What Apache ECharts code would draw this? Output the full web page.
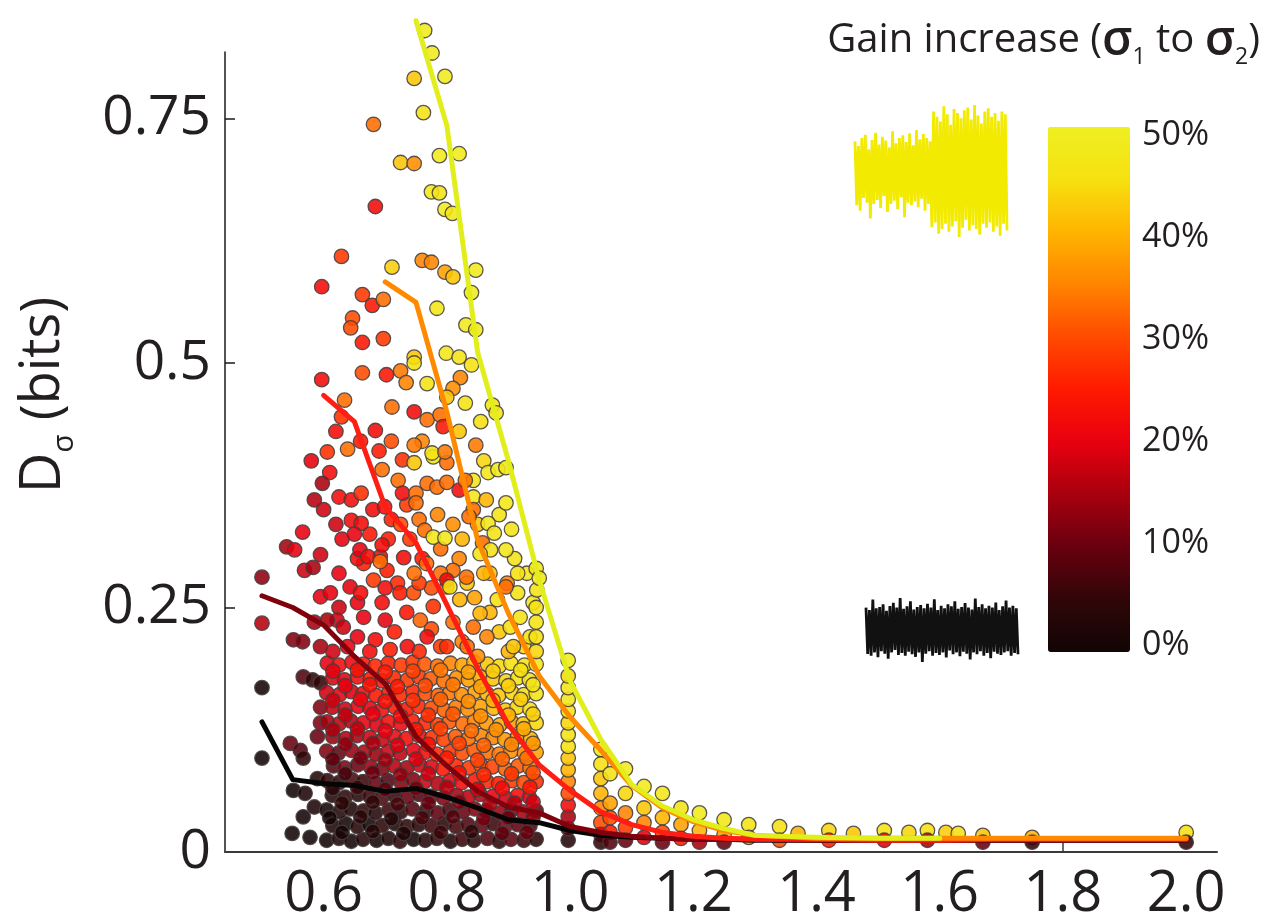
<!DOCTYPE html>
<html><head><meta charset="utf-8">
<script src="https://cdn.jsdelivr.net/npm/echarts@6/dist/echarts.min.js"></script>
<style>html,body{margin:0;padding:0;background:#fff}#c{width:1279px;height:916px}</style>
</head><body><div id="c"></div><script>
// ---------- DATA ----------
const xTicks = [0.6,0.8,1.0,1.2,1.4,1.6,1.8,2.0];
const yTicks = [0,0.25,0.5,0.75];
const colorTicks = [0,10,20,30,40,50];

// mean curves (x bins shared)
const binsX  = [0.5,0.55,0.6,0.65,0.7,0.75,0.8,0.85,0.9,0.95,1.0,1.05,1.1,1.15,1.2,1.25,1.3,1.4,1.5,1.6,1.7,1.8,1.9,2.0];
const line0  = [0.133,0.074,0.070,0.068,0.062,0.065,0.056,0.045,0.033,0.030,0.022,0.017,0.015,0.014,0.013,0.013,0.012,0.012,0.012,0.012,0.012,0.012,0.012,0.012];
const line12 = [0.262,0.250,0.232,0.200,0.172,0.118,0.088,0.062,0.046,0.040,0.026,0.020,0.016,0.014,0.013,0.013,0.013,0.012,0.012,0.012,0.012,0.012,0.012,0.012];
const line25 = [null,null,0.467,0.440,0.353,0.316,0.253,0.188,0.130,0.089,0.063,0.041,0.028,0.020,0.016,0.014,0.013,0.013,0.012,0.012,0.013,0.013,0.013,0.013];
const line37 = [null,null,null,null,0.583,0.562,0.450,0.319,0.244,0.180,0.138,0.104,0.068,0.045,0.031,0.022,0.017,0.014,0.014,0.014,0.014,0.014,0.014,0.014];
const line50 = [null,null,null,null,null,0.850,0.743,0.511,0.400,0.278,0.175,0.115,0.069,0.047,0.033,0.024,0.017,0.015,0.014,0.014,null,null,null,null];

// scatter points [x, D, gain%]
const ptsLeft = [
[0.5,0.281,13],[0.5,0.234,16],[0.5,0.168,0],[0.5,0.096,0],
[0.54,0.312,15],[0.553,0.309,20],[0.566,0.327,20],[0.569,0.288,18],[0.583,0.291,15],[0.595,0.304,18],
[0.551,0.217,12],[0.566,0.215,12],[0.595,0.261,20],[0.585,0.235,15],[0.595,0.21,15],
[0.567,0.179,8],[0.582,0.176,5],[0.595,0.173,5],[0.595,0.148,12],[0.595,0.132,12],[0.59,0.118,10],
[0.546,0.111,10],[0.562,0.104,8],[0.567,0.096,5],[0.551,0.063,0],[0.567,0.036,0],[0.585,0.046,2],
[0.549,0.019,0],[0.578,0.015,0],[0.59,0.075,3],[0.57,0.06,2]
];
const ptsMass = [
[0.605,0.012,0],[0.625,0.014,2],[0.645,0.011,0],[0.664,0.013,3],[0.686,0.012,0],[0.705,0.014,2],[0.724,0.011,4],[0.746,0.013,0],[0.765,0.012,3],[0.784,0.014,5],[0.806,0.011,2],[0.825,0.013,6],[0.844,0.012,4],[0.866,0.014,8],[0.885,0.011,5],[0.904,0.013,9],[0.925,0.012,6],[0.945,0.013,4],
[0.615,0.027,2],[0.636,0.029,0],[0.655,0.026,3],[0.674,0.028,0],[0.695,0.027,4],[0.716,0.029,2],[0.735,0.026,5],[0.754,0.028,3],[0.775,0.027,6],[0.796,0.029,4],[0.815,0.026,7],[0.834,0.028,8],[0.856,0.027,10],[0.875,0.029,6],[0.894,0.026,12],[0.915,0.028,9],[0.935,0.027,8],
[0.605,0.043,0],[0.626,0.041,3],[0.644,0.044,2],[0.665,0.042,5],[0.684,0.040,3],[0.706,0.043,6],[0.725,0.041,4],[0.744,0.044,8],[0.766,0.042,5],[0.785,0.040,9],[0.804,0.043,7],[0.826,0.041,10],[0.845,0.044,12],[0.864,0.042,10],[0.886,0.040,14],[0.905,0.043,12],[0.924,0.041,15],[0.945,0.042,10],
[0.614,0.058,3],[0.635,0.056,5],[0.656,0.059,4],[0.675,0.057,6],[0.694,0.055,8],[0.715,0.058,6],[0.736,0.056,10],[0.755,0.059,8],[0.774,0.057,12],[0.795,0.055,12],[0.816,0.058,15],[0.835,0.056,17],[0.854,0.059,16],[0.875,0.057,20],[0.896,0.055,18],[0.915,0.058,22],[0.934,0.056,20],
[0.606,0.073,5],[0.625,0.071,4],[0.646,0.074,8],[0.664,0.072,6],[0.685,0.070,10],[0.704,0.073,8],[0.726,0.071,12],[0.745,0.074,12],[0.764,0.072,18],[0.786,0.070,16],[0.805,0.073,20],[0.824,0.071,22],[0.846,0.074,24],[0.865,0.072,26],[0.884,0.070,25],[0.906,0.073,28],[0.925,0.071,30],[0.945,0.072,27],
[0.616,0.088,8],[0.634,0.086,12],[0.655,0.089,10],[0.676,0.087,14],[0.695,0.085,12],[0.714,0.088,16],[0.735,0.086,15],[0.756,0.089,18],[0.775,0.087,20],[0.794,0.085,24],[0.815,0.088,26],[0.836,0.086,28],[0.855,0.089,30],[0.874,0.087,29],[0.895,0.085,32],[0.916,0.088,31],[0.935,0.086,34],
[0.605,0.103,12],[0.624,0.101,10],[0.645,0.104,14],[0.666,0.102,16],[0.685,0.100,14],[0.705,0.103,18],[0.724,0.101,17],[0.746,0.104,20],[0.765,0.102,22],[0.784,0.100,26],[0.806,0.103,28],[0.825,0.101,30],[0.844,0.104,31],[0.866,0.102,33],[0.885,0.100,34],[0.904,0.103,36],[0.926,0.101,35],[0.945,0.102,38],
[0.615,0.118,14],[0.636,0.116,16],[0.654,0.119,15],[0.675,0.117,18],[0.696,0.115,18],[0.715,0.118,21],[0.734,0.116,22],[0.755,0.119,22],[0.776,0.117,27],[0.795,0.115,29],[0.814,0.118,31],[0.835,0.116,33],[0.856,0.119,35],[0.875,0.117,35],[0.894,0.115,37],[0.915,0.118,38],[0.936,0.116,40],
[0.606,0.133,15],[0.625,0.131,17],[0.644,0.134,16],[0.665,0.132,20],[0.686,0.130,19],[0.705,0.133,22],[0.725,0.131,21],[0.744,0.134,24],[0.766,0.132,26],[0.785,0.130,29],[0.804,0.133,31],[0.826,0.131,33],[0.845,0.134,35],[0.864,0.132,37],[0.886,0.130,39],[0.905,0.133,38],[0.924,0.131,42],[0.945,0.132,44],
[0.614,0.148,17],[0.635,0.146,18],[0.656,0.149,20],[0.675,0.147,20],[0.694,0.145,22],[0.716,0.148,24],[0.735,0.146,24],[0.754,0.149,26],[0.775,0.147,30],[0.796,0.145,32],[0.815,0.148,34],[0.834,0.146,36],[0.855,0.149,38],[0.876,0.147,40],[0.895,0.145,42],[0.914,0.148,44],[0.935,0.146,45],
[0.605,0.163,18],[0.626,0.161,20],[0.645,0.164,19],[0.664,0.162,22],[0.685,0.160,24],[0.706,0.163,24],[0.724,0.161,26],[0.745,0.164,26],[0.765,0.162,30],[0.786,0.160,32],[0.805,0.163,34],[0.824,0.161,36],[0.846,0.164,38],[0.865,0.162,40],[0.884,0.160,42],[0.906,0.163,44],[0.925,0.161,45],[0.945,0.162,46],
[0.615,0.178,19],[0.634,0.176,20],[0.655,0.179,22],[0.676,0.177,24],[0.695,0.175,24],[0.714,0.178,26],[0.736,0.176,28],[0.755,0.179,28],[0.774,0.177,31],[0.795,0.175,33],[0.816,0.178,36],[0.835,0.176,38],[0.854,0.179,40],[0.875,0.177,42],[0.896,0.175,44],[0.915,0.178,45],[0.934,0.176,46],
[0.606,0.193,20],[0.625,0.191,22],[0.646,0.194,21],[0.665,0.192,24],[0.684,0.190,26],[0.705,0.193,25],[0.726,0.191,28],[0.745,0.194,28],[0.764,0.192,31],[0.785,0.190,33],[0.806,0.193,35],[0.825,0.191,38],[0.844,0.194,40],[0.866,0.192,42],[0.885,0.190,44],[0.904,0.193,45],[0.926,0.191,46],[0.945,0.192,47]
];
const ptsFill = [
[0.63,0.020,1],[0.68,0.021,3],[0.73,0.019,2],[0.79,0.020,6],[0.84,0.021,5],[0.89,0.019,9],[0.93,0.020,10],
[0.61,0.035,0],[0.66,0.036,4],[0.71,0.034,3],[0.76,0.035,7],[0.81,0.036,8],[0.86,0.034,11],[0.90,0.035,10],[0.94,0.036,13],
[0.63,0.050,4],[0.68,0.051,5],[0.72,0.049,7],[0.77,0.050,10],[0.82,0.051,12],[0.87,0.049,15],[0.91,0.050,16],[0.94,0.051,18],
[0.615,0.065,4],[0.655,0.066,6],[0.70,0.064,9],[0.75,0.065,11],[0.80,0.066,16],[0.85,0.064,19],[0.89,0.065,22],[0.935,0.066,24],
[0.635,0.080,7],[0.68,0.081,10],[0.725,0.079,13],[0.77,0.080,18],[0.82,0.081,23],[0.86,0.079,26],[0.905,0.080,28],[0.94,0.081,30],
[0.615,0.095,9],[0.66,0.096,11],[0.70,0.094,14],[0.75,0.095,19],[0.80,0.096,25],[0.85,0.094,29],[0.89,0.095,32],[0.93,0.096,33],
[0.635,0.110,13],[0.68,0.111,15],[0.72,0.109,19],[0.77,0.110,23],[0.82,0.111,29],[0.86,0.109,32],[0.905,0.110,35],[0.94,0.111,37],
[0.615,0.125,15],[0.655,0.126,17],[0.70,0.124,20],[0.75,0.125,24],[0.79,0.126,29],[0.84,0.124,33],[0.88,0.125,36],[0.925,0.126,39],
[0.635,0.140,17],[0.68,0.141,20],[0.725,0.139,22],[0.77,0.140,27],[0.81,0.141,31],[0.855,0.139,36],[0.90,0.140,40],[0.94,0.141,43],
[0.615,0.155,18],[0.66,0.156,21],[0.70,0.154,23],[0.745,0.155,27],[0.79,0.156,32],[0.835,0.154,36],[0.875,0.155,40],[0.92,0.156,43],
[0.635,0.170,20],[0.675,0.171,23],[0.72,0.169,25],[0.765,0.170,30],[0.81,0.171,34],[0.855,0.169,38],[0.90,0.170,43],[0.94,0.171,46],
[0.615,0.185,20],[0.655,0.186,23],[0.70,0.184,25],[0.745,0.185,29],[0.79,0.186,34],[0.835,0.184,38],[0.875,0.185,43],[0.92,0.186,45]
];
const ptsMid = [
[0.615,0.205,18],[0.655,0.22,20],[0.675,0.205,22],[0.695,0.255,22],[0.715,0.225,25],[0.735,0.245,24],[0.755,0.205,26],[0.775,0.228,30],[0.79,0.21,28],[0.81,0.235,33],[0.825,0.215,35],[0.85,0.2,36],[0.87,0.245,40],[0.885,0.225,42],[0.9,0.205,40],[0.915,0.265,46],[0.925,0.21,44],[0.93,0.285,47],
[0.625,0.25,18],[0.655,0.255,20],[0.72,0.275,26],[0.775,0.27,30],[0.82,0.30,35],[0.845,0.26,38],[0.87,0.285,42],[0.625,0.285,20],[0.74,0.32,28],[0.71,0.34,25],[0.62,0.335,18],[0.68,0.35,22],
[0.611,0.265,20],[0.622,0.237,18],[0.606,0.237,15],[0.643,0.271,20],[0.665,0.295,25],[0.681,0.278,28],[0.692,0.302,22],[0.703,0.288,25],[0.660,0.265,22],[0.665,0.240,20],[0.639,0.210,20],[0.632,0.23,18],
[0.724,0.265,25],[0.746,0.265,30],[0.757,0.237,32],[0.778,0.251,27],[0.80,0.271,33],[0.81,0.288,33],[0.821,0.258,40],[0.833,0.275,42],[0.843,0.230,33],[0.854,0.244,40],[0.865,0.220,35],[0.882,0.258,45],[0.898,0.275,35],[0.903,0.230,45],[0.919,0.240,46],[0.935,0.220,45],[0.94,0.255,47],[0.946,0.268,46],[0.908,0.21,42],[0.833,0.21,33],[0.80,0.21,27],[0.768,0.22,22],[0.736,0.21,22],[0.70,0.237,20],[0.684,0.217,22],[0.708,0.207,25],
[0.945,0.205,44],[0.945,0.22,45],[0.945,0.235,46],[0.945,0.25,46],[0.945,0.29,47],[0.95,0.28,47],
[0.60,0.35,18],[0.63,0.32,20],[0.655,0.30,22],[0.675,0.325,24],[0.705,0.32,25],[0.725,0.335,30],[0.735,0.355,28],[0.755,0.34,33],[0.785,0.345,35],[0.81,0.335,36],[0.825,0.32,40],[0.85,0.335,42],[0.885,0.345,46],[0.905,0.33,46],[0.91,0.30,46],[0.915,0.285,45],
[0.69,0.41,25],[0.71,0.42,30],[0.66,0.42,24],[0.76,0.42,35],[0.82,0.43,42],[0.855,0.44,45],[0.86,0.40,44],[0.62,0.43,22],[0.585,0.36,16],[0.58,0.40,20],[0.86,0.285,40],[0.79,0.31,33],[0.755,0.275,28],[0.70,0.27,22]
];
const ptsUpper = [
[0.728,0.401,27],[0.747,0.398,42],[0.778,0.404,47],[0.80,0.398,33],[0.843,0.380,47],[0.867,0.388,47],[0.883,0.391,48],[0.896,0.393,47],
[0.61,0.388,22],[0.598,0.377,15],[0.625,0.363,22],[0.645,0.360,22],[0.661,0.367,27],[0.695,0.391,33],[0.699,0.353,22],[0.721,0.380,33],[0.728,0.367,22],[0.750,0.367,33],[0.75,0.357,33],[0.768,0.377,33],[0.784,0.373,33],[0.80,0.378,33],[0.82,0.370,22],[0.83,0.380,33],[0.843,0.363,47],[0.864,0.360,40],[0.896,0.357,47],[0.843,0.350,33],[0.836,0.343,33],
[0.645,0.339,22],[0.661,0.336,22],[0.65,0.325,20],[0.764,0.329,33],[0.778,0.322,47],[0.797,0.321,47],[0.867,0.336,47],[0.877,0.326,46],[0.858,0.316,33],[0.871,0.309,46],
[0.659,0.309,20],[0.672,0.302,22],[0.695,0.314,22],[0.692,0.297,33],[0.747,0.285,33],[0.73,0.301,22],[0.76,0.300,25],[0.767,0.295,33],[0.79,0.285,33],[0.80,0.278,22],[0.805,0.271,46],[0.832,0.281,33],[0.854,0.305,46],[0.896,0.309,47],[0.896,0.271,33],
[0.764,0.840,48],[0.776,0.817,48],[0.747,0.791,42],[0.797,0.793,48],[0.762,0.756,46],[0.681,0.744,33],[0.725,0.705,42],[0.747,0.704,36],[0.788,0.712,48],[0.82,0.714,48],[0.775,0.675,48],[0.788,0.674,46],[0.684,0.660,22],[0.797,0.657,48],[0.809,0.653,47],
[0.629,0.609,28],[0.711,0.598,43],[0.76,0.605,35],[0.775,0.603,35],[0.797,0.593,38],[0.81,0.588,42],[0.847,0.595,48],[0.597,0.578,22],[0.663,0.570,28],[0.679,0.559,24],[0.697,0.565,33],[0.84,0.572,48],[0.647,0.546,30],[0.644,0.536,30],[0.784,0.556,47],[0.831,0.539,48],[0.847,0.534,47],
[0.663,0.521,24],[0.697,0.525,28],[0.597,0.483,22],[0.663,0.490,30],[0.702,0.488,24],[0.725,0.492,34],[0.734,0.480,35],[0.747,0.506,42],[0.747,0.50,45],[0.768,0.479,46],[0.799,0.510,47],[0.82,0.506,46],[0.84,0.498,45],[0.822,0.485,35],[0.81,0.474,36],[0.80,0.465,42],
[0.634,0.462,33],[0.629,0.445,27],[0.711,0.455,33],[0.747,0.450,22],[0.768,0.442,33],[0.789,0.447,33],[0.794,0.435,24],[0.83,0.459,46],[0.874,0.457,46],[0.88,0.449,46],[0.684,0.431,22],[0.606,0.409,27],[0.639,0.412,33],[0.747,0.416,34],[0.776,0.408,46],[0.797,0.409,34],[0.847,0.416,34]
];
const ptsRight = [
[0.997,0.012,3],[0.997,0.024,8],[0.997,0.036,15],[0.997,0.048,22],[0.997,0.060,30],[0.997,0.072,35],[0.997,0.084,40],[0.997,0.096,42],[0.997,0.108,45],[0.997,0.120,46],[0.997,0.132,44],[0.997,0.144,46],[0.997,0.156,47],[0.997,0.168,46],[0.997,0.180,44],[0.997,0.196,48],
[1.05,0.105,48],[1.05,0.09,45],[1.05,0.075,42],[1.05,0.06,40],[1.05,0.045,35],[1.05,0.03,30],[1.05,0.018,20],[1.05,0.01,5],
[1.065,0.08,46],[1.065,0.05,38],[1.065,0.035,30],[1.065,0.02,25],[1.065,0.01,8],
[1.09,0.085,48],[1.09,0.06,44],[1.09,0.04,35],[1.09,0.025,28],[1.09,0.012,10],
[1.12,0.067,48],[1.12,0.045,42],[1.12,0.03,35],[1.12,0.015,20],
[1.15,0.06,47],[1.15,0.035,40],[1.15,0.02,30],[1.15,0.01,10],
[1.18,0.045,46],[1.18,0.028,38],[1.18,0.014,25],
[1.21,0.04,48],[1.21,0.022,40],[1.21,0.01,15],
[1.25,0.033,47],[1.25,0.018,38],[1.25,0.01,10],
[1.29,0.028,46],[1.29,0.015,35],[1.34,0.026,45],[1.34,0.012,30],
[1.37,0.019,40],[1.42,0.022,44],[1.42,0.012,25],[1.46,0.019,42],[1.51,0.022,46],[1.51,0.012,20],[1.55,0.02,44],[1.58,0.022,45],[1.58,0.012,15],[1.61,0.02,43],[1.63,0.019,45],[1.67,0.017,42],[1.67,0.01,10],[1.75,0.015,40],[1.75,0.01,5],[2.0,0.02,45],[2.0,0.01,5]
];

// inset noise traces (illustrative waveforms, read by eye)
const noiseHigh = [0.45,-0.52,0.38,-0.6,0.5,-0.41,0.55,-0.48,0.33,-0.72,0.47,-0.5,0.58,-0.44,0.4,-0.56,0.52,-0.38,0.46,-0.62,0.36,-0.5,0.6,-0.45,0.42,-0.58,0.5,-0.4,0.54,-0.7,0.44,-0.48,0.57,-0.52,0.39,-0.46,0.62,-0.55,0.48,-0.42,0.56,-0.6,0.5,-0.5,0.45,
-0.85,0.9,-0.78,0.82,-0.95,0.75,-0.88,0.98,-0.8,0.86,-0.92,0.7,-0.84,0.94,-0.76,0.88,-1.0,0.8,-0.86,0.92,-0.74,0.96,-0.9,0.78,-0.82,1.0,-0.88,0.84,-0.96,0.72,-0.8,0.9,-0.86,0.95,-0.78,0.82,-0.92,0.88,-0.84,0.76,-0.98,0.9,-0.8,0.86,-0.9];
const noiseLow = [0.7,-0.75,0.62,-0.8,0.95,-0.7,0.68,-0.85,0.72,-0.66,0.8,-0.74,0.6,-0.9,0.75,-0.7,0.85,-0.62,0.7,-0.78,1.0,-0.72,0.66,-0.8,0.74,-0.68,0.9,-0.76,0.64,-0.84,0.72,-0.7,0.78,-1.0,0.68,-0.74,0.82,-0.66,0.7,-0.8,0.96,-0.72,0.62,-0.78,0.76,-0.7,0.68,-0.86,0.8,-0.64,0.74,-0.76,0.9,-0.7,0.66,-0.82,0.72,-0.68,0.84,-0.74,0.7,-0.92,0.64,-0.7,0.98,-0.76,0.72,-0.66,0.8,-0.8,0.68,-0.72,0.76,-0.88,0.7,-0.68,0.86,-0.74,0.62,-0.78,0.74,-0.7,0.92,-0.66,0.7,-0.8,0.76,-0.72,0.68,-0.76];

// ---------- CHART ----------
const FONT = 'Open Sans';
const TXT = '#231f20';
const allPts = [].concat(ptsLeft, ptsMass, ptsFill, ptsMid, ptsUpper, ptsRight);
const mk = arr => binsX.map((x,i)=>[x, arr[i]]).filter(d=>d[1]!=null);
const lineSeries = (arr, color) => ({
  type:'line', xAxisIndex:0, yAxisIndex:0, data: mk(arr), showSymbol:false, symbol:'none',
  lineStyle:{color, width:5, cap:'round', join:'round'}, itemStyle:{color}, clip:false, z:3, silent:true
});
const noiseSeries = (arr, color, idx) => ({
  type:'line', xAxisIndex:idx, yAxisIndex:idx, data: arr.map((v,i)=>[i,v]), showSymbol:false, symbol:'none',
  lineStyle:{color, width:2.8}, clip:false, silent:true
});

const chart = echarts.init(document.getElementById('c'), null, {renderer:'canvas'});
const colorbarTop = 127, colorbarH = 525;
const graphics = [{
  type:'text', x: 44, y: 395, rotation: Math.PI/2,
  style:{ text:'{d|D}{s|σ}{b| (bits)}', align:'center', verticalAlign:'middle',
    rich:{ d:{fontSize:56, fontFamily:FONT, fill:TXT, lineHeight:70},
           s:{fontSize:30, fontFamily:FONT, fill:TXT, lineHeight:30, verticalAlign:'bottom'},
           b:{fontSize:54, fontFamily:FONT, fill:TXT, lineHeight:70} } }
}];
colorTicks.forEach(v => {
  graphics.push({ type:'text', x: 1142, y: 645 - v*10.2,
    style:{ text: v + '%', fontSize:34, fontFamily:FONT, fill:TXT, align:'left', verticalAlign:'middle' } });
});

chart.setOption({
  animation:false,
  backgroundColor:'#fff',
  title:{
    text:'{t|Gain increase (}{g|σ}{s|1}{t| to }{g|σ}{s|2}{t|)}',
    right:14, top:8,
    textStyle:{ fontWeight:'normal', rich:{
      t:{fontSize:40, fontFamily:FONT, fontWeight:'normal', color:TXT, lineHeight:56},
      g:{fontSize:48, fontFamily:FONT, fontWeight:600, color:TXT, lineHeight:56},
      s:{fontSize:23, fontFamily:FONT, fontWeight:'normal', color:TXT, lineHeight:23, verticalAlign:'bottom'} } }
  },
  grid:[
    {left:225, top:52, width:992, height:800, outerBoundsMode:'none', containLabel:false},
    {left:855, top:105, width:152, height:132, outerBoundsMode:'none'},
    {left:866, top:598, width:152, height:64, outerBoundsMode:'none'}
  ],
  xAxis:[
    {type:'value', gridIndex:0, min:0.44, max:2.05,
     axisLine:{show:true, onZero:false, lineStyle:{color:'#3a3a3a', width:2}},
     axisTick:{show:true, inside:true, length:10, customValues:[1.8], lineStyle:{color:'#3a3a3a', width:1.5}},
     axisLabel:{customValues:xTicks, formatter:v=>v.toFixed(1), fontSize:56, fontFamily:FONT, color:TXT, margin:15},
     splitLine:{show:false}},
    {type:'value', gridIndex:1, min:0, max:89, show:false},
    {type:'value', gridIndex:2, min:0, max:89, show:false}
  ],
  yAxis:[
    {type:'value', gridIndex:0, min:0, max:0.818,
     axisLine:{show:true, onZero:false, lineStyle:{color:'#1a1a1a', width:1.5}},
     axisTick:{show:true, inside:true, length:10, customValues:yTicks.filter(v=>v>0), lineStyle:{color:'#1a1a1a', width:1.5}},
     axisLabel:{customValues:yTicks, formatter:v=>String(v), fontSize:55, fontFamily:FONT, color:TXT, margin:14},
     splitLine:{show:false}},
    {type:'value', gridIndex:1, min:-1, max:1, show:false},
    {type:'value', gridIndex:2, min:-1, max:1, show:false}
  ],
  visualMap:{
    type:'continuous', seriesIndex:0, dimension:2, min:0, max:50,
    left:1048, top:colorbarTop, itemWidth:82, itemHeight:colorbarH, padding:0,
    calculable:false, realtime:false, hoverLink:false,
    inRange:{color:['#120505','#300608','#68000f','#a8000e','#e8000f','#ff1a00','#ff4a00','#ff8400','#ffb400','#f6e010','#eef022']},
    textStyle:{color:'transparent'}
  },
  series:[
    {type:'scatter', xAxisIndex:0, yAxisIndex:0, data:allPts, symbolSize:14.5, clip:false, z:2, silent:true,
     itemStyle:{opacity:0.88, borderColor:'#463f3f', borderWidth:1.3}},
    lineSeries(line0,  '#050505'),
    lineSeries(line12, '#80000c'),
    lineSeries(line25, '#ff1e14'),
    lineSeries(line37, '#ff8a00'),
    lineSeries(line50, '#e2ee1c'),
    noiseSeries(noiseHigh, '#f2ea00', 1),
    noiseSeries(noiseLow, '#111111', 2)
  ],
  graphic: graphics
});
</script></body></html>
